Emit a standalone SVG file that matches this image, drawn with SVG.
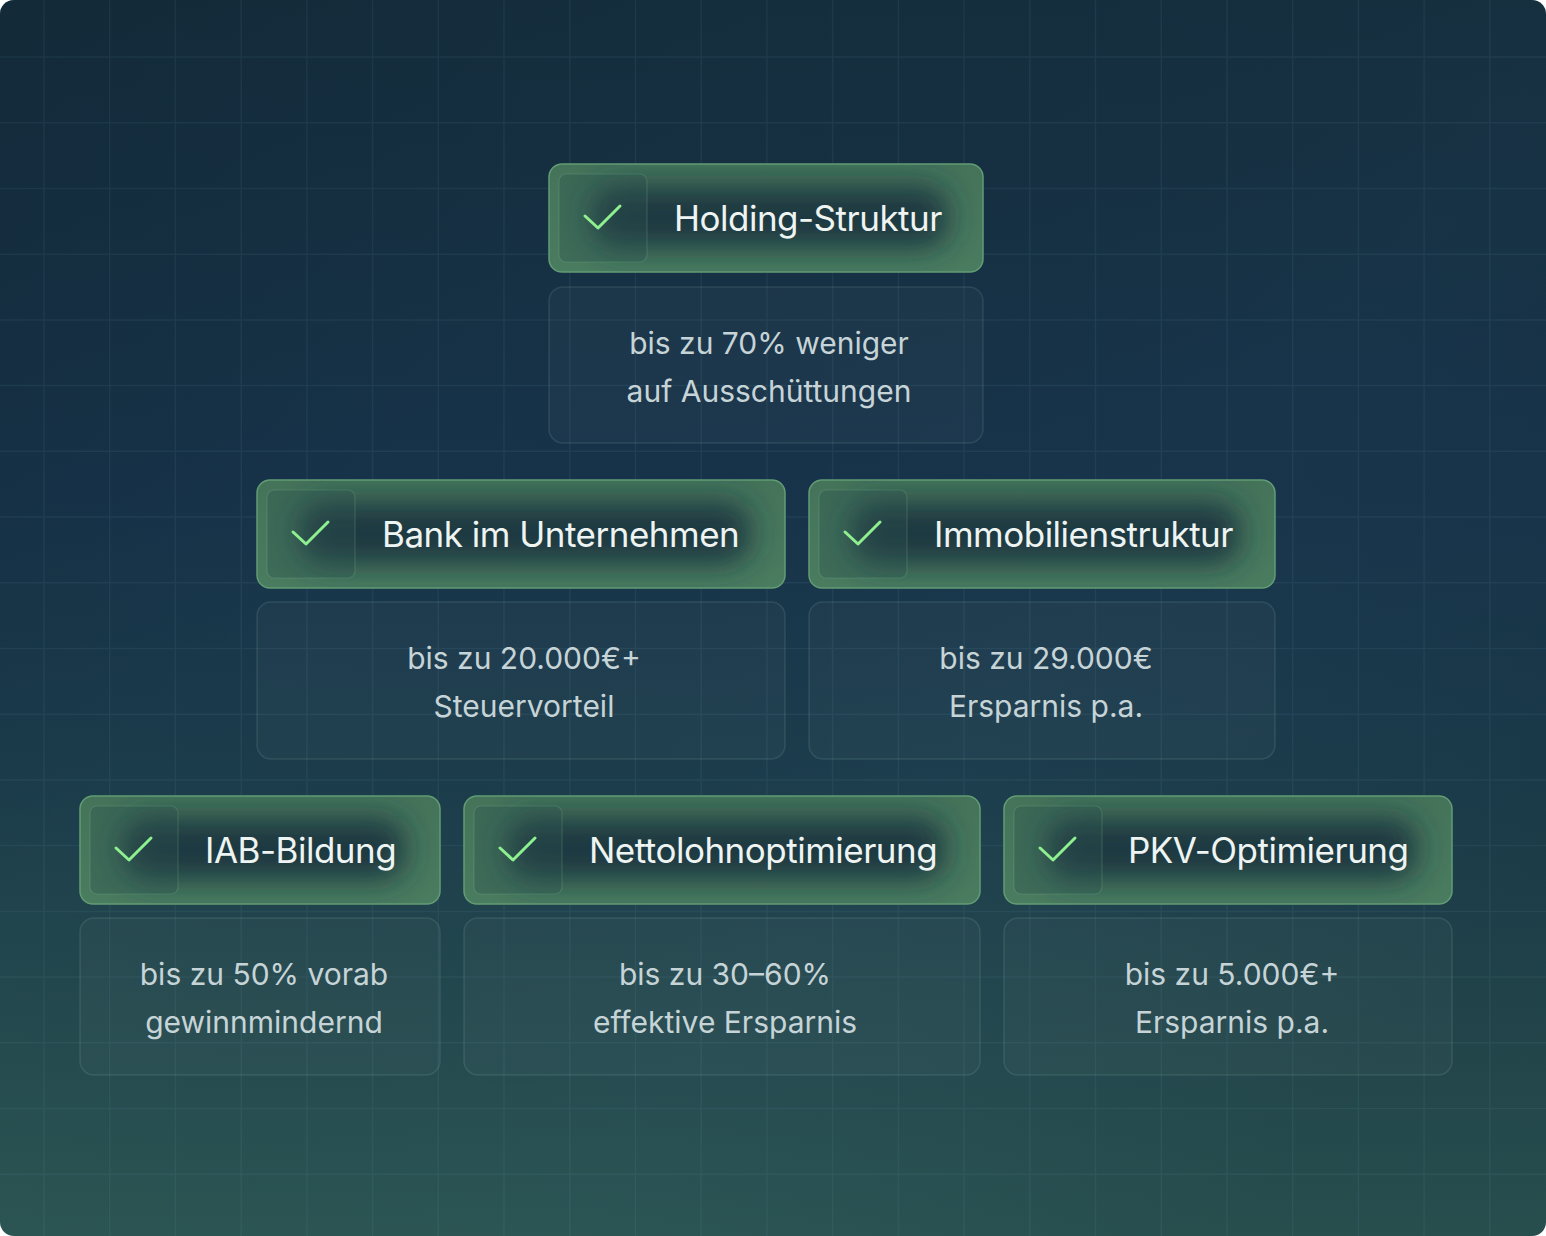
<svg xmlns="http://www.w3.org/2000/svg" width="1546" height="1236" viewBox="0 0 1546 1236">
  <defs>
    <linearGradient id="bgV" x1="0" y1="0" x2="0" y2="1">
      <stop offset="0" stop-color="#152e3d"/>
      <stop offset="0.4" stop-color="#17334a"/>
      <stop offset="0.62" stop-color="#1b3c4b"/>
      <stop offset="0.82" stop-color="#24494e"/>
      <stop offset="1" stop-color="#2c5653"/>
    </linearGradient>
    <linearGradient id="bgD" x1="0" y1="0" x2="1" y2="0.7">
      <stop offset="0" stop-color="#0f2230" stop-opacity="0.35"/>
      <stop offset="0.35" stop-color="#0f2230" stop-opacity="0"/>
      <stop offset="0.7" stop-color="#2a4a66" stop-opacity="0.08"/>
      <stop offset="1" stop-color="#0f2230" stop-opacity="0.15"/>
    </linearGradient>
    <linearGradient id="hdrBase" x1="0" y1="0" x2="0" y2="1">
      <stop offset="0" stop-color="#44735a"/>
      <stop offset="1" stop-color="#4a7c60"/>
    </linearGradient>
    <filter id="soft" x="-20%" y="-60%" width="140%" height="220%">
      <feGaussianBlur stdDeviation="15"/>
    </filter>
    <clipPath id="c-holding"><rect x="549" y="164" width="434" height="108" rx="13"/></clipPath>
    <clipPath id="c-bank"><rect x="257" y="480" width="528" height="108" rx="13"/></clipPath>
    <clipPath id="c-immo"><rect x="809" y="480" width="466" height="108" rx="13"/></clipPath>
    <clipPath id="c-iab"><rect x="80" y="796" width="360" height="108" rx="13"/></clipPath>
    <clipPath id="c-netto"><rect x="464" y="796" width="516" height="108" rx="13"/></clipPath>
    <clipPath id="c-pkv"><rect x="1004" y="796" width="448" height="108" rx="13"/></clipPath>
    <style>
      .grid { fill: none; stroke: #8cc3d6; stroke-opacity: 0.08; stroke-width: 1.5; }
      .hfill { fill: url(#hdrBase); }
      .hdark { fill: #18313f; fill-opacity: 0.9; filter: url(#soft); }
      .hline { fill: none; stroke: #629c74; stroke-width: 1.5; }
      .cbox { fill: #2a4f4c; fill-opacity: 0.35; stroke: #8fcf9c; stroke-opacity: 0.2; stroke-width: 1.2; }
      .check { fill: none; stroke: #8ff08f; stroke-width: 3; stroke-linecap: round; stroke-linejoin: round; }
      .htext { font-family: Inter, "Liberation Sans", sans-serif; font-size: 35px; fill: #eef4f1; letter-spacing: -0.5px; }
      .dbox { fill: #ffffff; fill-opacity: 0.028; stroke: #a8d6cc; stroke-opacity: 0.13; stroke-width: 1.5; }
      .dtext { font-family: Inter, "Liberation Sans", sans-serif; font-size: 30px; fill: #c6d4d7; text-anchor: middle; }
    </style>
  </defs>

  <rect x="0" y="0" width="1546" height="1236" fill="#ffffff"/>
  <g id="background">
    <rect x="0" y="0" width="1546" height="1236" rx="14" fill="url(#bgV)"/>
    <rect x="0" y="0" width="1546" height="1236" rx="14" fill="url(#bgD)"/>
    <path class="grid" d="M44 0V1236M109.7 0V1236M175.4 0V1236M241.2 0V1236M306.9 0V1236M372.6 0V1236M438.3 0V1236M504 0V1236M569.8 0V1236M635.5 0V1236M701.2 0V1236M766.9 0V1236M832.6 0V1236M898.4 0V1236M964.1 0V1236M1029.8 0V1236M1095.5 0V1236M1161.2 0V1236M1227 0V1236M1292.7 0V1236M1358.4 0V1236M1424.1 0V1236M1489.8 0V1236M0 57H1546M0 122.7H1546M0 188.4H1546M0 254.2H1546M0 319.9H1546M0 385.6H1546M0 451.3H1546M0 517H1546M0 582.8H1546M0 648.5H1546M0 714.2H1546M0 779.9H1546M0 845.6H1546M0 911.4H1546M0 977.1H1546M0 1042.8H1546M0 1108.5H1546M0 1174.2H1546"/>
  </g>

  <g id="connectors"></g>

  <g id="node-holding">
    <g clip-path="url(#c-holding)">
      <rect class="hfill" x="549" y="164" width="434" height="108"/>
      <rect class="hdark" x="592" y="186" width="356" height="62" rx="22"/>
    </g>
    <rect class="hline" x="549" y="164" width="434" height="108" rx="13"/>
    <rect class="cbox" x="559" y="174" width="88" height="88" rx="7"/>
    <path class="check" d="M585 216L598 228L620 206"/>
    <text class="htext" x="674" y="231">Holding-Struktur</text>
    <rect class="dbox" x="549" y="287" width="434" height="156" rx="14"/>
    <text class="dtext" x="769" y="354">bis zu 70% weniger</text>
    <text class="dtext" x="769" y="402">auf Ausschüttungen</text>
  </g>

  <g id="node-bank">
    <g clip-path="url(#c-bank)">
      <rect class="hfill" x="257" y="480" width="528" height="108"/>
      <rect class="hdark" x="300" y="502" width="450" height="62" rx="22"/>
    </g>
    <rect class="hline" x="257" y="480" width="528" height="108" rx="13"/>
    <rect class="cbox" x="267" y="490" width="88" height="88" rx="7"/>
    <path class="check" d="M293 532L306 544L328 522"/>
    <text class="htext" x="382" y="547">Bank im Unternehmen</text>
    <rect class="dbox" x="257" y="602" width="528" height="157" rx="14"/>
    <text class="dtext" x="524" y="669">bis zu 20.000€+</text>
    <text class="dtext" x="524" y="717">Steuervorteil</text>
  </g>

  <g id="node-immobilien">
    <g clip-path="url(#c-immo)">
      <rect class="hfill" x="809" y="480" width="466" height="108"/>
      <rect class="hdark" x="852" y="502" width="388" height="62" rx="22"/>
    </g>
    <rect class="hline" x="809" y="480" width="466" height="108" rx="13"/>
    <rect class="cbox" x="819" y="490" width="88" height="88" rx="7"/>
    <path class="check" d="M845 532L858 544L880 522"/>
    <text class="htext" x="934" y="547">Immobilienstruktur</text>
    <rect class="dbox" x="809" y="602" width="466" height="157" rx="14"/>
    <text class="dtext" x="1046" y="669">bis zu 29.000€</text>
    <text class="dtext" x="1046" y="717">Ersparnis p.a.</text>
  </g>

  <g id="node-iab">
    <g clip-path="url(#c-iab)">
      <rect class="hfill" x="80" y="796" width="360" height="108"/>
      <rect class="hdark" x="123" y="818" width="282" height="62" rx="22"/>
    </g>
    <rect class="hline" x="80" y="796" width="360" height="108" rx="13"/>
    <rect class="cbox" x="90" y="806" width="88" height="88" rx="7"/>
    <path class="check" d="M116 848L129 860L151 838"/>
    <text class="htext" x="205" y="863">IAB-Bildung</text>
    <rect class="dbox" x="80" y="918" width="360" height="157" rx="14"/>
    <text class="dtext" x="264" y="985">bis zu 50% vorab</text>
    <text class="dtext" x="264" y="1033">gewinnmindernd</text>
  </g>

  <g id="node-netto">
    <g clip-path="url(#c-netto)">
      <rect class="hfill" x="464" y="796" width="516" height="108"/>
      <rect class="hdark" x="507" y="818" width="438" height="62" rx="22"/>
    </g>
    <rect class="hline" x="464" y="796" width="516" height="108" rx="13"/>
    <rect class="cbox" x="474" y="806" width="88" height="88" rx="7"/>
    <path class="check" d="M500 848L513 860L535 838"/>
    <text class="htext" x="589" y="863">Nettolohnoptimierung</text>
    <rect class="dbox" x="464" y="918" width="516" height="157" rx="14"/>
    <text class="dtext" x="725" y="985">bis zu 30–60%</text>
    <text class="dtext" x="725" y="1033">effektive Ersparnis</text>
  </g>

  <g id="node-pkv">
    <g clip-path="url(#c-pkv)">
      <rect class="hfill" x="1004" y="796" width="448" height="108"/>
      <rect class="hdark" x="1047" y="818" width="370" height="62" rx="22"/>
    </g>
    <rect class="hline" x="1004" y="796" width="448" height="108" rx="13"/>
    <rect class="cbox" x="1014" y="806" width="88" height="88" rx="7"/>
    <path class="check" d="M1040 848L1053 860L1075 838"/>
    <text class="htext" x="1128" y="863">PKV-Optimierung</text>
    <rect class="dbox" x="1004" y="918" width="448" height="157" rx="14"/>
    <text class="dtext" x="1232" y="985">bis zu 5.000€+</text>
    <text class="dtext" x="1232" y="1033">Ersparnis p.a.</text>
  </g>
</svg>
